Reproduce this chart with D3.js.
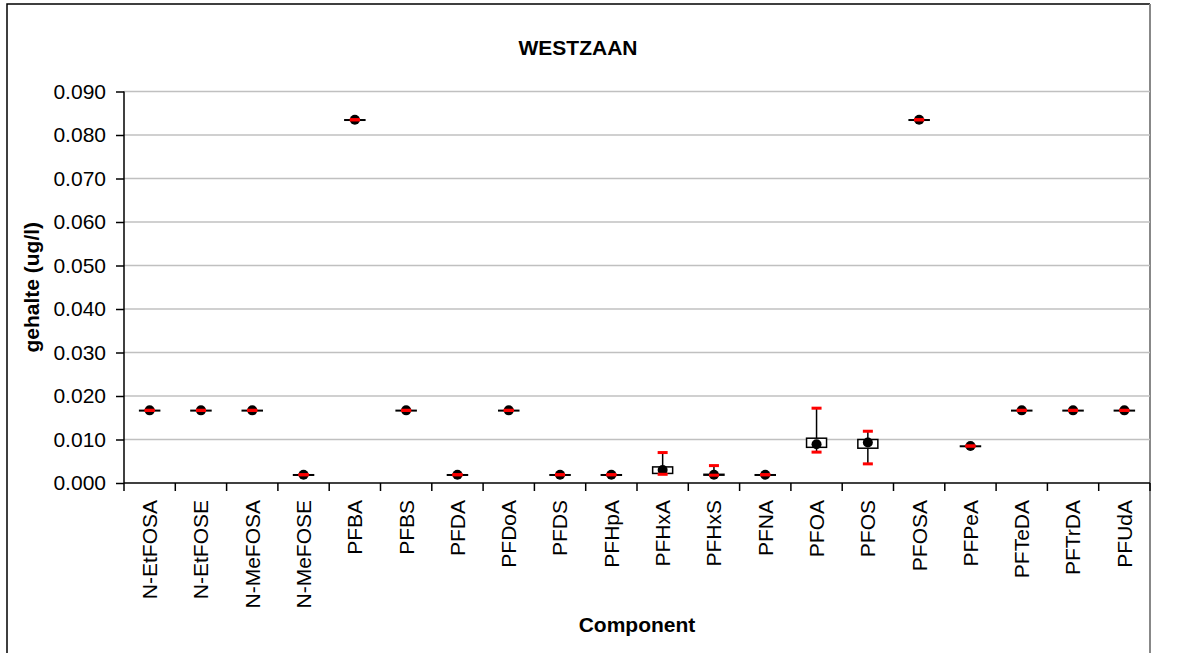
<!DOCTYPE html>
<html>
  <head>
    <title>WESTZAAN</title>
    <style>
      body {
        margin: 0px;
        overflow: hidden;
        background: #fff;
      }
      text { font-family: "Liberation Sans", Arial, sans-serif; }
    </style>
    <script src="https://d3js.org/d3.v7.min.js"></script>
  </head>
  <body>

    <svg width="1177" height="653"></svg>

    <script>
      // data (ug/l)
      const categories = ['N-EtFOSA', 'N-EtFOSE', 'N-MeFOSA', 'N-MeFOSE', 'PFBA', 'PFBS', 'PFDA',
        'PFDoA', 'PFDS', 'PFHpA', 'PFHxA', 'PFHxS', 'PFNA', 'PFOA', 'PFOS', 'PFOSA', 'PFPeA',
        'PFTeDA', 'PFTrDA', 'PFUdA'];
      const minVals = [0.0167, 0.0167, 0.0167, 0.0019, 0.0835, 0.0167, 0.0019, 0.0167, 0.0019, 0.0019,
        0.0020, 0.0018, 0.0019, 0.0071, 0.0044, 0.0835, 0.0085, 0.0167, 0.0167, 0.0167];
      const q1Vals = [0.0167, 0.0167, 0.0167, 0.0019, 0.0835, 0.0167, 0.0019, 0.0167, 0.0019, 0.0019,
        0.0022, 0.0018, 0.0019, 0.0082, 0.0080, 0.0835, 0.0085, 0.0167, 0.0167, 0.0167];
      const medVals = [0.0167, 0.0167, 0.0167, 0.0019, 0.0835, 0.0167, 0.0019, 0.0167, 0.0019, 0.0019,
        0.0030, 0.0019, 0.0019, 0.0089, 0.0093, 0.0835, 0.0085, 0.0167, 0.0167, 0.0167];
      const q3Vals = [0.0167, 0.0167, 0.0167, 0.0019, 0.0835, 0.0167, 0.0019, 0.0167, 0.0019, 0.0019,
        0.0037, 0.0020, 0.0019, 0.0103, 0.0100, 0.0835, 0.0085, 0.0167, 0.0167, 0.0167];
      const maxVals = [0.0167, 0.0167, 0.0167, 0.0019, 0.0835, 0.0167, 0.0019, 0.0167, 0.0019, 0.0019,
        0.0070, 0.0040, 0.0019, 0.0172, 0.0119, 0.0835, 0.0085, 0.0167, 0.0167, 0.0167];
      const yTicks = [0, 0.01, 0.02, 0.03, 0.04, 0.05, 0.06, 0.07, 0.08, 0.09];

      const svg = d3.select('svg');
      const plot = { left: 124, right: 1150, top: 91.5, bottom: 483 };

      const data = categories.map((c, i) => ({
        name: c, min: minVals[i], q1: q1Vals[i], med: medVals[i], q3: q3Vals[i], max: maxVals[i]
      }));

      const xScale = d3.scaleBand()
        .domain(categories)
        .range([plot.left, plot.right])
        .padding(0);

      const yScale = d3.scaleLinear()
        .domain([0, 0.09])
        .range([plot.bottom, plot.top]);

      // chart border
      svg.append('path')
        .attr('d', `M7,700 V4 H1150`)
        .attr('fill', 'none')
        .attr('stroke', '#000')
        .attr('stroke-width', 1.5);
      svg.append('line')
        .attr('x1', 1150).attr('x2', 1150).attr('y1', 4).attr('y2', 700)
        .attr('stroke', '#888').attr('stroke-width', 2);

      // gridlines
      svg.append('g').selectAll('line').data(yTicks.slice(1))
        .enter().append('line')
          .attr('x1', plot.left).attr('x2', plot.right)
          .attr('y1', d => yScale(d)).attr('y2', d => yScale(d))
          .attr('stroke', '#c0c0c0')
          .attr('stroke-width', 1.5);

      // y axis
      const yAxis = d3.axisLeft(yScale)
        .tickValues(yTicks)
        .tickFormat(d3.format('.3f'))
        .tickSize(8)
        .tickPadding(10);

      const gy = svg.append('g')
        .attr('transform', `translate(${plot.left},0)`)
        .call(yAxis);
      gy.select('.domain').remove();
      gy.selectAll('line').attr('stroke', '#000').attr('stroke-width', 1.5);
      gy.selectAll('text')
        .style('font-size', '21px')
        .attr('fill', '#000');
      gy.append('line')
        .attr('x1', 0).attr('x2', 0)
        .attr('y1', plot.top).attr('y2', plot.bottom + 8)
        .attr('stroke', '#000').attr('stroke-width', 1.5);

      // x axis
      const xAxis = d3.axisBottom(xScale)
        .tickSize(0);

      const gx = svg.append('g')
        .attr('transform', `translate(0,${plot.bottom})`)
        .call(xAxis);
      gx.select('.domain').remove();
      gx.selectAll('text')
        .style('font-size', '21px')
        .attr('fill', '#000')
        .attr('transform', 'rotate(-90)')
        .attr('text-anchor', 'end')
        .attr('x', -17)
        .attr('y', 0)
        .attr('dy', '0.35em');
      gx.append('line')
        .attr('x1', plot.left).attr('x2', plot.right)
        .attr('y1', 0).attr('y2', 0)
        .attr('stroke', '#000').attr('stroke-width', 1.5);
      gx.selectAll('.sep').data(categories.slice(1).map(c => xScale(c)).concat([plot.right]))
        .enter().append('line')
          .attr('class', 'sep')
          .attr('x1', d => d).attr('x2', d => d)
          .attr('y1', 0).attr('y2', 8)
          .attr('stroke', '#000').attr('stroke-width', 1.5);

      // boxes
      const cx = d => xScale(d.name) + xScale.bandwidth() / 2;
      const marks = svg.append('g').selectAll('g').data(data)
        .enter().append('g');

      marks.append('line')
        .attr('x1', cx).attr('x2', cx)
        .attr('y1', d => yScale(d.max)).attr('y2', d => yScale(d.min))
        .attr('stroke', '#000').attr('stroke-width', 1.5);

      marks.append('rect')
        .attr('x', d => cx(d) - 10)
        .attr('width', 20)
        .attr('y', d => yScale(d.q3))
        .attr('height', d => Math.max(yScale(d.q1) - yScale(d.q3), 0.5))
        .attr('fill', '#fff')
        .attr('stroke', '#000')
        .attr('stroke-width', 1.5);

      marks.append('circle')
        .attr('cx', cx)
        .attr('cy', d => yScale(d.med))
        .attr('r', 5)
        .attr('fill', '#000');

      ['min', 'max'].forEach(k => {
        marks.append('rect')
          .attr('x', d => cx(d) - 5)
          .attr('width', 10)
          .attr('y', d => yScale(d[k]) - 1.5)
          .attr('height', 3)
          .attr('fill', '#ff0000');
      });

      // titles
      svg.append('text')
        .attr('x', 578).attr('y', 55)
        .attr('text-anchor', 'middle')
        .style('font-size', '21px').style('font-weight', 'bold')
        .text('WESTZAAN');

      svg.append('text')
        .attr('x', (plot.left + plot.right) / 2).attr('y', 632)
        .attr('text-anchor', 'middle')
        .style('font-size', '21px').style('font-weight', 'bold')
        .text('Component');

      svg.append('text')
        .attr('transform', `translate(32,${(plot.top + plot.bottom) / 2}) rotate(-90)`)
        .attr('text-anchor', 'middle')
        .attr('dy', '0.35em')
        .style('font-size', '21px').style('font-weight', 'bold')
        .text('gehalte (ug/l)');
    </script>
  </body>
</html>
